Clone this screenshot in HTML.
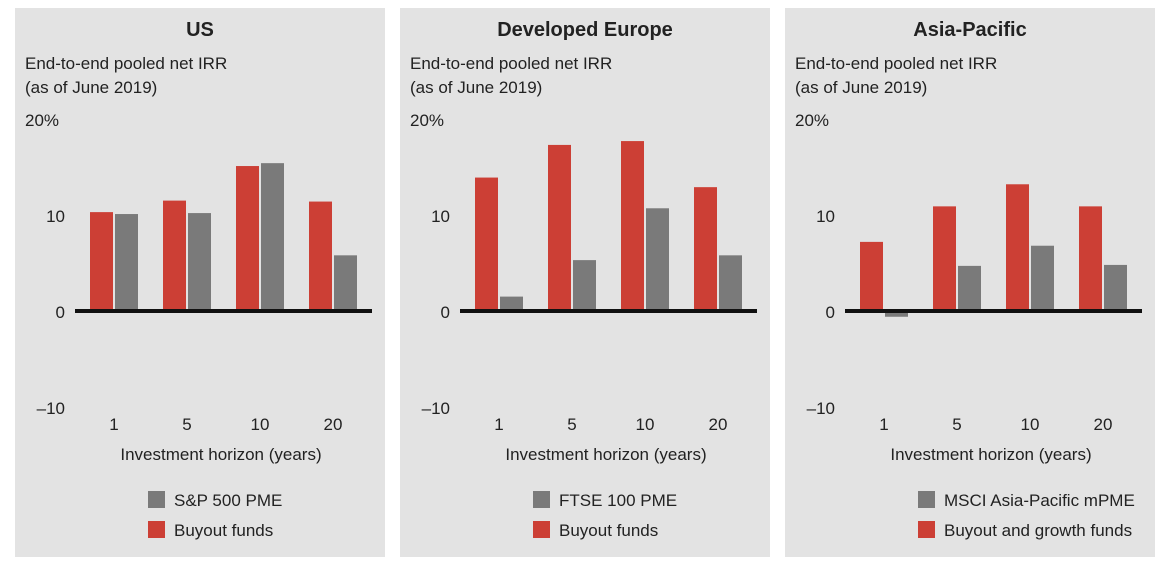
<!DOCTYPE html>
<html><head><meta charset="utf-8"><style>
html,body{margin:0;padding:0;background:#fff;width:1165px;height:570px;overflow:hidden}
svg{display:block;font-family:"Liberation Sans",Arial,sans-serif}
</style></head><body>
<svg id="c" width="1165" height="570"></svg>
<script>
const titles=["US","Developed Europe","Asia-Pacific"];
const categories=["1","5","10","20"];
const fundValues=[[10.3,11.5,15.1,11.4],[13.9,17.3,17.7,12.9],[7.2,10.9,13.2,10.9]];
const pmeValues=[[10.1,10.2,15.4,5.8],[1.5,5.3,10.7,5.8],[-0.6,4.7,6.8,4.8]];
const pmeNames=["S&P 500 PME","FTSE 100 PME","MSCI Asia-Pacific mPME"];
const fundNames=["Buyout funds","Buyout funds","Buyout and growth funds"];
const ticks=[20,10,0,-10];
const tickLabels=["20%","10","0","–10"];
const ns="http://www.w3.org/2000/svg";
const svg=document.getElementById('c');
function el(t,a,p){const e=document.createElementNS(ns,t);for(const k in a)e.setAttribute(k,a[k]);(p||svg).appendChild(e);return e;}
function txt(s,a,p){const e=el('text',a,p);e.textContent=s;return e;}
const y=v=>311-v*9.6;
titles.forEach((t,i)=>{
  const ox=15+i*385;
  const g=el('g',{});
  
  
  el('rect',{x:ox,y:8,width:370,height:549,fill:'#e3e3e3'},g);
  const ti=txt(t,{x:ox+185,y:36,'text-anchor':'middle','font-size':20,'font-weight':'bold',fill:'#222'},g);
  
  
  const s1=txt("End-to-end pooled net IRR",{x:ox+10,y:69,'font-size':17,fill:'#222'},g);
  
  
  txt("(as of June 2019)",{x:ox+10,y:93,'font-size':17,fill:'#222'},g);
  ticks.forEach((v,k)=>{
    const tl=txt(tickLabels[k],{x:k==0?ox+10:ox+50,y:y(v)+7,'text-anchor':k==0?'start':'end','font-size':17,fill:'#222'},g);
    
    
  });
  categories.forEach((c,k)=>{
    const cx=ox+99+k*73;
    const fv=fundValues[i][k], pv=pmeValues[i][k];
    const r=el('rect',{x:cx-24,y:Math.min(y(fv),y(0)),width:23,height:Math.abs(y(fv)-y(0)),fill:'#cc3f35'},g);
    
    
    const b=el('rect',{x:cx+1,y:Math.min(y(pv),y(0)),width:23,height:Math.abs(y(pv)-y(0)),fill:'#7a7a7a'},g);
    
    
    const xl=txt(c,{x:cx,y:430,'text-anchor':'middle','font-size':17,fill:'#222'},g);
    
    
  });
  const z=el('rect',{x:ox+60,y:309,width:297,height:4,fill:'#111'},g);
  
  
  const xt=txt("Investment horizon (years)",{x:ox+206,y:460,'text-anchor':'middle','font-size':17,fill:'#222'},g);
  
  
  const l1=el('g',{},g);
  
  
  el('rect',{x:ox+133,y:491,width:17,height:17,fill:'#7a7a7a'},l1);
  txt(pmeNames[i],{x:ox+159,y:506,'font-size':17,fill:'#222'},l1);
  const l2=el('g',{},g);
  
  
  el('rect',{x:ox+133,y:521,width:17,height:17,fill:'#cc3f35'},l2);
  txt(fundNames[i],{x:ox+159,y:536,'font-size':17,fill:'#222'},l2);
});
</script>
</body></html>
